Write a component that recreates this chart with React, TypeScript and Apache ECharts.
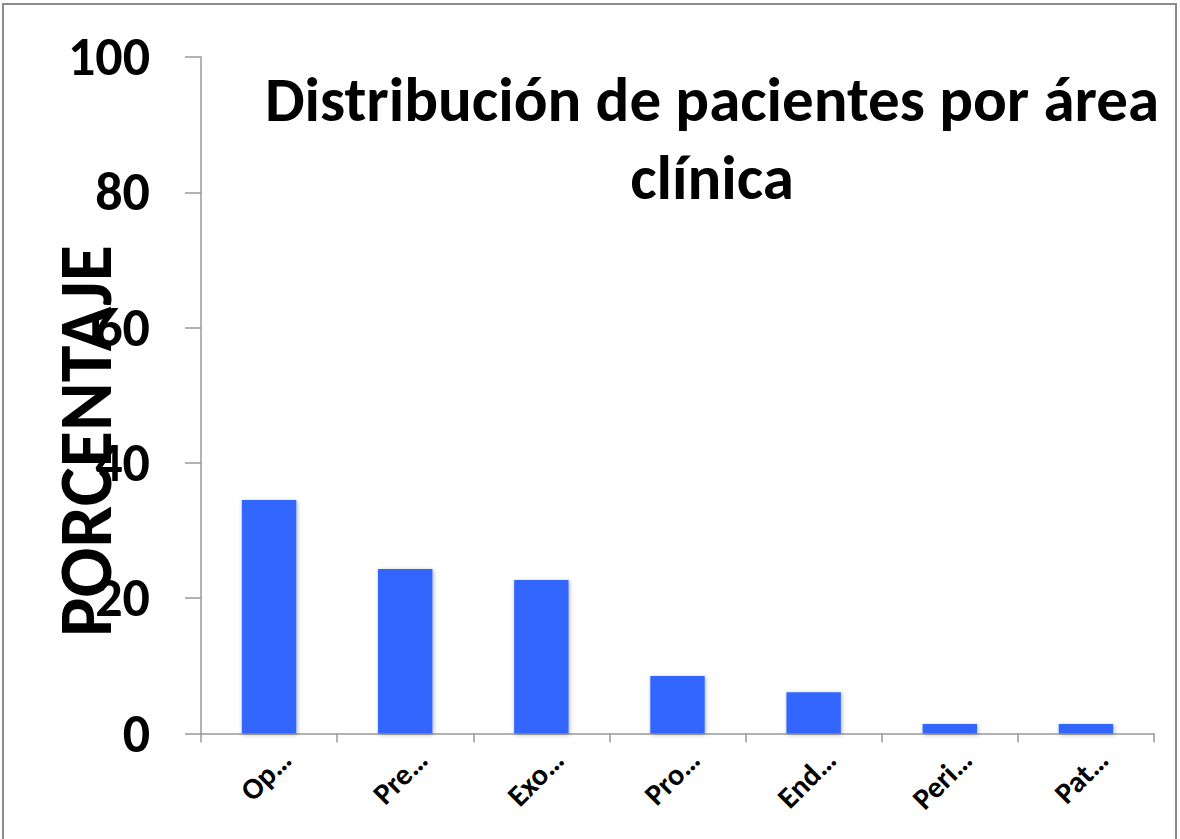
import React, { useEffect, useRef } from "react";
import * as echarts from "echarts";

const categories = ["Op…", "Pre…", "Exo…", "Pro…", "End…", "Peri…", "Pat…"];
const values = [34.5, 24.3, 22.7, 8.5, 6.1, 1.4, 1.4];
const titleText = "Distribución de pacientes por área\nclínica";
const yAxisName = "PORCENTAJE";

const FONT = "Carlito, Calibri, Lato, 'Open Sans', sans-serif";

export default function App() {
  const ref = useRef<HTMLDivElement>(null);
  useEffect(() => {
    if (!ref.current) return;
    const chart = echarts.init(ref.current, undefined, { renderer: "svg" });
    chart.setOption({
      animation: false,
      backgroundColor: "#ffffff",
      title: {
        text: titleText,
        left: 707,
        top: 55,
        textAlign: "center",
        textStyle: {
          fontFamily: FONT,
          fontWeight: "bold",
          fontSize: 63,
          lineHeight: 78,
          color: "#000",
        },
      },
      grid: { left: 201, right: 26, top: 57, bottom: 105.5, containLabel: false },
      xAxis: {
        type: "category",
        data: categories,
        axisLine: { show: true, lineStyle: { color: "#999", width: 1.5 } },
        axisTick: { show: true, length: 9, lineStyle: { color: "#999", width: 1.5 } },
        axisLabel: {
          rotate: 45,
          margin: 4,
          verticalAlign: "top",
          lineHeight: 48,
          fontFamily: FONT,
          fontWeight: "bold",
          fontSize: 30,
          color: "#000",
        },
      },
      yAxis: {
        type: "value",
        min: 0,
        max: 100,
        interval: 20,
        splitLine: { show: false },
        axisLine: { show: true, lineStyle: { color: "#999", width: 1.5 } },
        axisTick: { show: true, length: 16, lineStyle: { color: "#999", width: 1.5 } },
        axisLabel: {
          margin: 51,
          fontFamily: FONT,
          fontWeight: "bold",
          fontSize: 54,
          color: "#000",
        },
      },
      series: [
        {
          type: "bar",
          data: values,
          barWidth: "40%",
          itemStyle: {
            color: "#3366FF",
            shadowBlur: 4,
            shadowColor: "rgba(0,0,0,0.3)",
            shadowOffsetX: 1,
            shadowOffsetY: 1,
          },
        },
      ],
      graphic: [
        {
          type: "rect",
          shape: { x: 3, y: 4, width: 1173, height: 860 },
          style: { fill: "none", stroke: "#8c8c8c", lineWidth: 2 },
          silent: true,
          z: 0,
        },
        {
          type: "text",
          x: 86,
          y: 441,
          rotation: Math.PI / 2,
          style: {
            text: yAxisName,
            fontFamily: FONT,
            fontWeight: "bold",
            fontSize: 74,
            fill: "#000",
            align: "center",
            verticalAlign: "middle",
          },
          z: 10,
        },
      ],
    });
    return () => chart.dispose();
  }, []);
  return (
    <div
      ref={ref}
      style={{ position: "absolute", left: 0, top: 0, width: 1180, height: 839 }}
    />
  );
}
